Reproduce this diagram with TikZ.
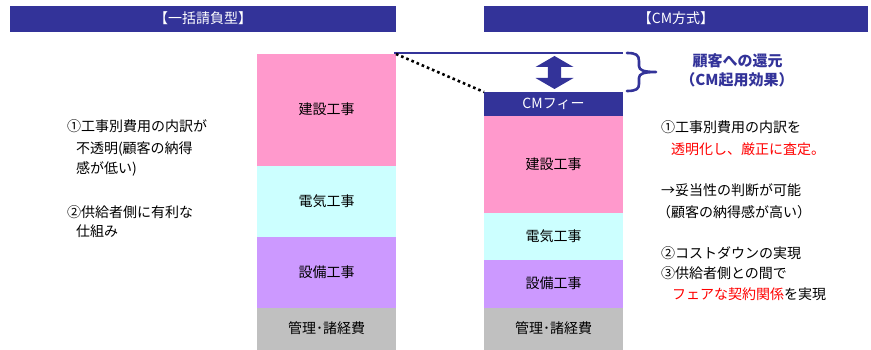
\documentclass[tikz,border=0pt]{standalone}
\usepackage{fontspec}
\setmainfont{Noto Sans CJK JP}
\definecolor{navy}{HTML}{333399}
\definecolor{pinkc}{HTML}{FF99CC}
\definecolor{cyanc}{HTML}{CCFFFF}
\definecolor{purpc}{HTML}{CC99FF}
\definecolor{grayc}{HTML}{C0C0C0}
\definecolor{redc}{HTML}{FF0000}
\begin{document}
\begin{tikzpicture}[x=1pt,y=-1pt,
  every node/.style={inner sep=0pt, outer sep=0pt, text height=12pt, text depth=2.4pt,
    font=\fontsize{14pt}{16pt}\selectfont},
  titlebar/.style={fill=navy, text=white, minimum height=26pt},
  seg/.style={minimum width=139pt},
  note/.style={anchor=west},
  gain/.style={text=navy, text height=12.9pt, text depth=2.6pt,
    font=\fontsize{15pt}{17pt}\selectfont\bfseries},
  dotline/.style={black, line width=2.6pt, dash pattern=on 2.6pt off 3pt},
  topline/.style={navy, line width=1.6pt},
  bracestyle/.style={navy, line width=2.6pt, line cap=round, line join=round},
]
\useasboundingbox (0,0) rectangle (871,350);

% title bars
\node[titlebar, minimum width=386pt] (T1) at (203,19) {【一括請負型】};
\node[titlebar, minimum width=384pt] (T2) at (676,19) {【CM方式】};

% left column
\node[seg, fill=pinkc, minimum height=112pt] (L1) at (326.5,110) {建設工事};
\node[seg, fill=cyanc, minimum height=71pt] (L2) at (326.5,201.5) {電気工事};
\node[seg, fill=purpc, minimum height=71pt] (L3) at (326.5,272.5) {設備工事};
\node[seg, fill=grayc, minimum height=42pt] (L4) at (326.5,329) {管理･諸経費};

% right column
\node[seg, fill=navy, text=white, minimum height=24pt] (R0) at (553.5,104) {CMフィー};
\node[seg, fill=pinkc, minimum height=97pt] (R1) at (553.5,164.5) {建設工事};
\node[seg, fill=cyanc, minimum height=47pt] (R2) at (553.5,236.5) {電気工事};
\node[seg, fill=purpc, minimum height=48pt] (R3) at (553.5,284) {設備工事};
\node[seg, fill=grayc, minimum height=42pt] (R4) at (553.5,329) {管理･諸経費};

% top line and dotted line
\coordinate (ls) at (394,53);
\coordinate (le) at (623,53);
\draw[topline] (ls) -- (le);
\draw[dotline] (L1.north east) -- (R0.north west);

% double arrow
\fill[navy] (554.5,56) -- (573.5,67) -- (561.2,67) -- (561.2,78) -- (573.5,78) -- (554.5,89)
  -- (535.5,78) -- (547.8,78) -- (547.8,67) -- (535.5,67) -- cycle;

% brace
\coordinate (bt) at (627,53);
\coordinate (bb) at (627,91);
\coordinate (btip) at (656,72);
\draw[bracestyle] (bt) .. controls (636,53) and (639,55) .. (639,61) -- (639,66)
  .. controls (639,70) and (643,72) .. (btip)
  .. controls (643,72) and (639,74) .. (639,78) -- (639,84)
  .. controls (639,89) and (636,91) .. (bb);

\node[gain] (G1) at (737.5,61) {顧客への還元};
\node[gain] (G2) at (737,80) {（CM起用効果）};

% left notes
\node[note] (N1) at (67,126.5) {①工事別費用の内訳が};
\node[note] (N2) at (76,148.5) {不透明(顧客の納得};
\node[note] (N3) at (76,169) {感が低い)};
\node[note] (N4) at (67,212.5) {②供給者側に有利な};
\node[note] (N5) at (76,231.5) {仕組み};

% right notes
\node[note] (M1) at (661,127.5) {①工事別費用の内訳を};
\node[note, text=redc] (M2) at (671,150) {透明化し、厳正に査定。};
\node[note] (M3) at (661,191) {→妥当性の判断が可能};
\node[note] (M4) at (657,212.5) {（顧客の納得感が高い）};
\node[note] (M5) at (661,254) {②コストダウンの実現};
\node[note] (M6) at (661,273.5) {③供給者側との間で};
\node[note] (M7) at (672,295) {\textcolor{redc}{フェアな契約関係}を実現};
\end{tikzpicture}
\end{document}
